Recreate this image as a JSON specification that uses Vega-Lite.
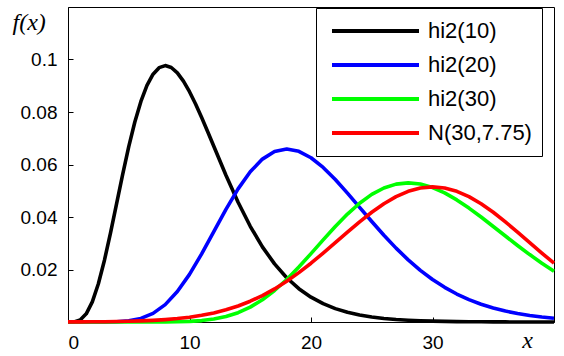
{
  "$schema": "https://vega.github.io/schema/vega-lite/v6.json",
  "width": 486,
  "height": 315,
  "autosize": {"type": "none"},
  "padding": {"left": 68, "top": 7, "right": 10, "bottom": 34},
  "background": "white",
  "config": {
    "view": {"stroke": "black", "strokeWidth": 1},
    "axis": {"grid": false, "domainColor": "black", "tickColor": "black", "labelColor": "black", "labelFont": "Liberation Sans", "labelFontSize": 19, "tickSize": -5, "titleColor": "black"}
  },
  "datasets": {
    "curves": [
      {"s":"hi2(10)","x":0,"y":0},{"s":"hi2(10)","x":0.5,"y":0.00006},{"s":"hi2(10)","x":1,"y":0.00079},{"s":"hi2(10)","x":1.5,"y":0.00311},{"s":"hi2(10)","x":2,"y":0.00766},{"s":"hi2(10)","x":2.5,"y":0.01457},{"s":"hi2(10)","x":3,"y":0.02353},{"s":"hi2(10)","x":3.5,"y":0.03395},{"s":"hi2(10)","x":4,"y":0.04511},{"s":"hi2(10)","x":4.5,"y":0.05628},{"s":"hi2(10)","x":5,"y":0.0668},{"s":"hi2(10)","x":5.5,"y":0.07617},{"s":"hi2(10)","x":6,"y":0.08402},{"s":"hi2(10)","x":6.5,"y":0.09012},{"s":"hi2(10)","x":7,"y":0.09441},{"s":"hi2(10)","x":7.5,"y":0.09689},{"s":"hi2(10)","x":8,"y":0.09768},{"s":"hi2(10)","x":8.5,"y":0.09695},{"s":"hi2(10)","x":9,"y":0.0949},{"s":"hi2(10)","x":9.5,"y":0.09176},{"s":"hi2(10)","x":10,"y":0.08773},{"s":"hi2(10)","x":10.5,"y":0.08305},{"s":"hi2(10)","x":11,"y":0.07791},{"s":"hi2(10)","x":11.5,"y":0.07248},{"s":"hi2(10)","x":12,"y":0.06693},{"s":"hi2(10)","x":13,"y":0.05591},{"s":"hi2(10)","x":14,"y":0.04561},{"s":"hi2(10)","x":15,"y":0.03646},{"s":"hi2(10)","x":16,"y":0.02863},{"s":"hi2(10)","x":17,"y":0.02213},{"s":"hi2(10)","x":18,"y":0.01687},{"s":"hi2(10)","x":19,"y":0.0127},{"s":"hi2(10)","x":20,"y":0.00946},{"s":"hi2(10)","x":21,"y":0.00697},{"s":"hi2(10)","x":22,"y":0.00509},{"s":"hi2(10)","x":23,"y":0.00369},{"s":"hi2(10)","x":24,"y":0.00265},{"s":"hi2(10)","x":25,"y":0.0019},{"s":"hi2(10)","x":26,"y":0.00135},{"s":"hi2(10)","x":27,"y":0.00095},{"s":"hi2(10)","x":28,"y":0.00067},{"s":"hi2(10)","x":29,"y":0.00046},{"s":"hi2(10)","x":30,"y":0.00032},{"s":"hi2(10)","x":31,"y":0.00022},{"s":"hi2(10)","x":32,"y":0.00015},{"s":"hi2(10)","x":33,"y":0.0001},{"s":"hi2(10)","x":34,"y":0.00007},{"s":"hi2(10)","x":35,"y":0.00005},{"s":"hi2(10)","x":36,"y":0.00003},{"s":"hi2(10)","x":37,"y":0.00002},{"s":"hi2(10)","x":38,"y":0.00002},{"s":"hi2(10)","x":39,"y":0.00001},{"s":"hi2(10)","x":40,"y":0.00001},
      {"s":"hi2(20)","x":0,"y":0},{"s":"hi2(20)","x":1,"y":0},{"s":"hi2(20)","x":2,"y":0},{"s":"hi2(20)","x":3,"y":0.00001},{"s":"hi2(20)","x":4,"y":0.0001},{"s":"hi2(20)","x":5,"y":0.00043},{"s":"hi2(20)","x":6,"y":0.00135},{"s":"hi2(20)","x":7,"y":0.00328},{"s":"hi2(20)","x":8,"y":0.00662},{"s":"hi2(20)","x":9,"y":0.01159},{"s":"hi2(20)","x":10,"y":0.01813},{"s":"hi2(20)","x":11,"y":0.02593},{"s":"hi2(20)","x":12,"y":0.03442},{"s":"hi2(20)","x":13,"y":0.04291},{"s":"hi2(20)","x":14,"y":0.05071},{"s":"hi2(20)","x":15,"y":0.05724},{"s":"hi2(20)","x":16,"y":0.06205},{"s":"hi2(20)","x":17,"y":0.06495},{"s":"hi2(20)","x":18,"y":0.06589},{"s":"hi2(20)","x":19,"y":0.06501},{"s":"hi2(20)","x":20,"y":0.06257},{"s":"hi2(20)","x":21,"y":0.05887},{"s":"hi2(20)","x":22,"y":0.05428},{"s":"hi2(20)","x":23,"y":0.04911},{"s":"hi2(20)","x":24,"y":0.04369},{"s":"hi2(20)","x":25,"y":0.03827},{"s":"hi2(20)","x":26,"y":0.03304},{"s":"hi2(20)","x":27,"y":0.02814},{"s":"hi2(20)","x":28,"y":0.02368},{"s":"hi2(20)","x":29,"y":0.01969},{"s":"hi2(20)","x":30,"y":0.0162},{"s":"hi2(20)","x":31,"y":0.0132},{"s":"hi2(20)","x":32,"y":0.01065},{"s":"hi2(20)","x":33,"y":0.00852},{"s":"hi2(20)","x":34,"y":0.00677},{"s":"hi2(20)","x":35,"y":0.00533},{"s":"hi2(20)","x":36,"y":0.00417},{"s":"hi2(20)","x":37,"y":0.00323},{"s":"hi2(20)","x":38,"y":0.00249},{"s":"hi2(20)","x":39,"y":0.00191},{"s":"hi2(20)","x":40,"y":0.00146},
      {"s":"hi2(30)","x":0,"y":0},{"s":"hi2(30)","x":2,"y":0},{"s":"hi2(30)","x":4,"y":0},{"s":"hi2(30)","x":6,"y":0},{"s":"hi2(30)","x":7,"y":0.00001},{"s":"hi2(30)","x":8,"y":0.00003},{"s":"hi2(30)","x":9,"y":0.00009},{"s":"hi2(30)","x":10,"y":0.00024},{"s":"hi2(30)","x":11,"y":0.00054},{"s":"hi2(30)","x":12,"y":0.00111},{"s":"hi2(30)","x":13,"y":0.00207},{"s":"hi2(30)","x":14,"y":0.00355},{"s":"hi2(30)","x":15,"y":0.00566},{"s":"hi2(30)","x":16,"y":0.00847},{"s":"hi2(30)","x":17,"y":0.012},{"s":"hi2(30)","x":18,"y":0.01619},{"s":"hi2(30)","x":19,"y":0.02093},{"s":"hi2(30)","x":20,"y":0.02604},{"s":"hi2(30)","x":21,"y":0.03127},{"s":"hi2(30)","x":22,"y":0.03638},{"s":"hi2(30)","x":23,"y":0.04111},{"s":"hi2(30)","x":24,"y":0.04525},{"s":"hi2(30)","x":25,"y":0.04861},{"s":"hi2(30)","x":26,"y":0.05105},{"s":"hi2(30)","x":27,"y":0.05252},{"s":"hi2(30)","x":28,"y":0.053},{"s":"hi2(30)","x":29,"y":0.05254},{"s":"hi2(30)","x":30,"y":0.05123},{"s":"hi2(30)","x":31,"y":0.04917},{"s":"hi2(30)","x":32,"y":0.04651},{"s":"hi2(30)","x":33,"y":0.0434},{"s":"hi2(30)","x":34,"y":0.03999},{"s":"hi2(30)","x":35,"y":0.03639},{"s":"hi2(30)","x":36,"y":0.03275},{"s":"hi2(30)","x":37,"y":0.02915},{"s":"hi2(30)","x":38,"y":0.02568},{"s":"hi2(30)","x":39,"y":0.0224},{"s":"hi2(30)","x":40,"y":0.01937},
      {"s":"N(30,7.75)","x":0,"y":0.00003},{"s":"N(30,7.75)","x":1,"y":0.00005},{"s":"N(30,7.75)","x":2,"y":0.00008},{"s":"N(30,7.75)","x":3,"y":0.00012},{"s":"N(30,7.75)","x":4,"y":0.00019},{"s":"N(30,7.75)","x":5,"y":0.00028},{"s":"N(30,7.75)","x":6,"y":0.00043},{"s":"N(30,7.75)","x":7,"y":0.00063},{"s":"N(30,7.75)","x":8,"y":0.00092},{"s":"N(30,7.75)","x":9,"y":0.00131},{"s":"N(30,7.75)","x":10,"y":0.00184},{"s":"N(30,7.75)","x":11,"y":0.00255},{"s":"N(30,7.75)","x":12,"y":0.00347},{"s":"N(30,7.75)","x":13,"y":0.00464},{"s":"N(30,7.75)","x":14,"y":0.00611},{"s":"N(30,7.75)","x":15,"y":0.00791},{"s":"N(30,7.75)","x":16,"y":0.01007},{"s":"N(30,7.75)","x":17,"y":0.01261},{"s":"N(30,7.75)","x":18,"y":0.01552},{"s":"N(30,7.75)","x":19,"y":0.0188},{"s":"N(30,7.75)","x":20,"y":0.02239},{"s":"N(30,7.75)","x":21,"y":0.02623},{"s":"N(30,7.75)","x":22,"y":0.03022},{"s":"N(30,7.75)","x":23,"y":0.03423},{"s":"N(30,7.75)","x":24,"y":0.03815},{"s":"N(30,7.75)","x":25,"y":0.04181},{"s":"N(30,7.75)","x":26,"y":0.04506},{"s":"N(30,7.75)","x":27,"y":0.04776},{"s":"N(30,7.75)","x":28,"y":0.04979},{"s":"N(30,7.75)","x":29,"y":0.05105},{"s":"N(30,7.75)","x":30,"y":0.05148},{"s":"N(30,7.75)","x":31,"y":0.05105},{"s":"N(30,7.75)","x":32,"y":0.04979},{"s":"N(30,7.75)","x":33,"y":0.04776},{"s":"N(30,7.75)","x":34,"y":0.04506},{"s":"N(30,7.75)","x":35,"y":0.04181},{"s":"N(30,7.75)","x":36,"y":0.03815},{"s":"N(30,7.75)","x":37,"y":0.03423},{"s":"N(30,7.75)","x":38,"y":0.03022},{"s":"N(30,7.75)","x":39,"y":0.02623},{"s":"N(30,7.75)","x":40,"y":0.02239}
    ]
  },
  "data": {"name": "curves"},
  "mark": {"type": "line", "strokeWidth": 3.6, "strokeJoin": "round", "strokeCap": "butt"},
  "encoding": {
    "x": {
      "field": "x", "type": "quantitative",
      "scale": {"domain": [0, 40], "nice": false, "zero": false},
      "axis": {"values": [0, 10, 20, 30], "labelPadding": 16, "title": "x", "titleFont": "Liberation Serif", "titleFontStyle": "italic", "titleFontWeight": "normal", "titleFontSize": 24, "titleX": 459, "titleY": 25, "titleBaseline": "alphabetic", "titleAlign": "center"}
    },
    "y": {
      "field": "y", "type": "quantitative",
      "scale": {"domain": [0, 0.12], "nice": false},
      "axis": {"values": [0.02, 0.04, 0.06, 0.08, 0.1], "format": "~g", "labelPadding": 16, "title": "f(x)", "titleAngle": 0, "titleFont": "Liberation Serif", "titleFontStyle": "italic", "titleFontWeight": "normal", "titleFontSize": 24, "titleX": -56, "titleY": 22, "titleAlign": "left", "titleBaseline": "alphabetic"}
    },
    "color": {
      "field": "s", "type": "nominal",
      "sort": ["hi2(10)", "hi2(20)", "hi2(30)", "N(30,7.75)"],
      "scale": {"domain": ["hi2(10)", "hi2(20)", "hi2(30)", "N(30,7.75)"], "range": ["#000000", "#0000ff", "#00ff00", "#ff0000"]},
      "legend": {"title": null, "orient": "none", "legendX": 248, "legendY": 1, "strokeColor": "black", "fillColor": "white", "padding": 10, "symbolType": "stroke", "symbolSize": 7569, "symbolStrokeWidth": 4, "clipHeight": 26, "rowPadding": 8, "symbolOffset": 4, "labelOffset": 7, "labelFont": "Liberation Sans", "labelFontSize": 22, "labelColor": "black", "labelLimit": 300, "cornerRadius": 0}
    },
    "order": {"field": "x", "type": "quantitative"}
  }
}
